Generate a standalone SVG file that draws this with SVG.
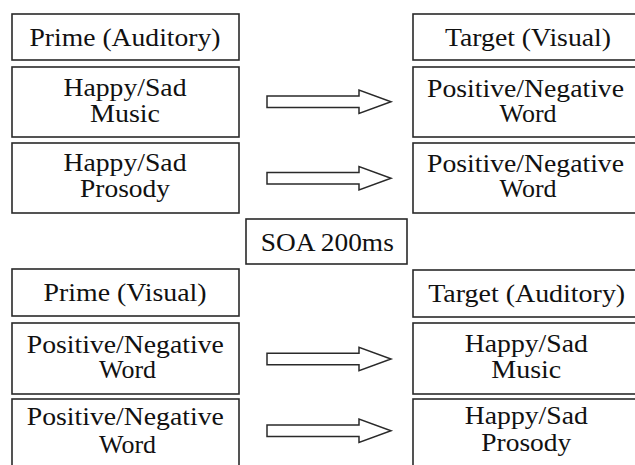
<svg xmlns="http://www.w3.org/2000/svg" xmlns:xlink="http://www.w3.org/1999/xlink" width="635" height="465" viewBox="0 0 635 465">
<style>
.box{fill:#fff;stroke:#2a2a2a;stroke-width:1.6}
.t{font-family:"Liberation Serif","Times New Roman",serif;font-size:25px;fill:#111;text-anchor:middle}
.arr{fill:#fff;stroke:#2a2a2a;stroke-width:1.5;stroke-linejoin:miter}
</style>
<defs>
<path id="arrow" class="arr" d="M0,-5.7 H92 V-11.7 L124,0 L92,11.7 V5.7 H0 Z"/>
</defs>
<rect width="635" height="465" fill="#fff"/>
<g id="connectors">
<use xlink:href="#arrow" transform="translate(267,101.7)"/>
<use xlink:href="#arrow" transform="translate(267,178.3)"/>
<use xlink:href="#arrow" transform="translate(267,359)"/>
<use xlink:href="#arrow" transform="translate(267,430.8)"/>
</g>
<g id="prime-auditory">
<rect class="box" x="12" y="14" width="227" height="46"/>
<text class="t" x="125" y="46" textLength="191" lengthAdjust="spacingAndGlyphs">Prime (Auditory)</text>
</g>
<g id="prime-music">
<rect class="box" x="12" y="67" width="227" height="70"/>
<text class="t" x="125" y="95.7" textLength="123" lengthAdjust="spacingAndGlyphs">Happy/Sad</text>
<text class="t" x="125" y="121.7" textLength="70" lengthAdjust="spacingAndGlyphs">Music</text>
</g>
<g id="prime-prosody">
<rect class="box" x="12" y="143" width="227" height="70"/>
<text class="t" x="125" y="171" textLength="123" lengthAdjust="spacingAndGlyphs">Happy/Sad</text>
<text class="t" x="125" y="196.7" textLength="90" lengthAdjust="spacingAndGlyphs">Prosody</text>
</g>
<g id="target-visual">
<rect class="box" x="413" y="14" width="232" height="46"/>
<text class="t" x="528" y="45.7" textLength="166" lengthAdjust="spacingAndGlyphs">Target (Visual)</text>
</g>
<g id="target-word1">
<rect class="box" x="413" y="67" width="232" height="70"/>
<text class="t" x="525.5" y="96.7" textLength="197" lengthAdjust="spacingAndGlyphs">Positive/Negative</text>
<text class="t" x="528" y="121.7" textLength="57" lengthAdjust="spacingAndGlyphs">Word</text>
</g>
<g id="target-word2">
<rect class="box" x="413" y="143" width="232" height="70"/>
<text class="t" x="525.5" y="171.7" textLength="197" lengthAdjust="spacingAndGlyphs">Positive/Negative</text>
<text class="t" x="528" y="196.7" textLength="57" lengthAdjust="spacingAndGlyphs">Word</text>
</g>
<g id="soa">
<rect class="box" x="246" y="219" width="161" height="45"/>
<text class="t" x="327.3" y="251" textLength="133" lengthAdjust="spacingAndGlyphs">SOA 200ms</text>
</g>
<g id="prime-visual">
<rect class="box" x="12" y="269" width="227" height="47"/>
<text class="t" x="125" y="301" textLength="163" lengthAdjust="spacingAndGlyphs">Prime (Visual)</text>
</g>
<g id="prime-word1">
<rect class="box" x="12" y="323" width="227" height="71"/>
<text class="t" x="125.3" y="353.3" textLength="197" lengthAdjust="spacingAndGlyphs">Positive/Negative</text>
<text class="t" x="127.5" y="378.3" textLength="57" lengthAdjust="spacingAndGlyphs">Word</text>
</g>
<g id="prime-word2">
<rect class="box" x="12" y="399" width="227" height="80"/>
<text class="t" x="125.3" y="425" textLength="197" lengthAdjust="spacingAndGlyphs">Positive/Negative</text>
<text class="t" x="127.5" y="452.5" textLength="57" lengthAdjust="spacingAndGlyphs">Word</text>
</g>
<g id="target-auditory">
<rect class="box" x="413" y="270" width="232" height="47"/>
<text class="t" x="526.7" y="301.7" textLength="197" lengthAdjust="spacingAndGlyphs">Target (Auditory)</text>
</g>
<g id="target-music">
<rect class="box" x="413" y="323" width="232" height="71"/>
<text class="t" x="526.3" y="351.7" textLength="123" lengthAdjust="spacingAndGlyphs">Happy/Sad</text>
<text class="t" x="526.3" y="378.3" textLength="70" lengthAdjust="spacingAndGlyphs">Music</text>
</g>
<g id="target-prosody">
<rect class="box" x="413" y="399" width="232" height="80"/>
<text class="t" x="526.3" y="424" textLength="123" lengthAdjust="spacingAndGlyphs">Happy/Sad</text>
<text class="t" x="526.3" y="450.7" textLength="90" lengthAdjust="spacingAndGlyphs">Prosody</text>
</g>
</svg>
